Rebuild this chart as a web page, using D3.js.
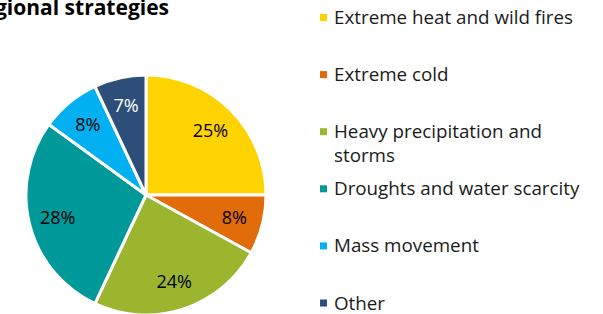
<!DOCTYPE html>
<html>
<head>
<meta charset="utf-8">
<script src="https://cdn.jsdelivr.net/npm/d3@7"></script>
<style>
  body { margin: 0; background: #fff; }
  text { font-family: "Open Sans", "Noto Sans", sans-serif; }
</style>
</head>
<body>
<div id="chart"></div>
<script>
// chart data
var categories = ['Extreme heat and wild fires', 'Extreme cold', 'Heavy precipitation and storms',
    'Droughts and water scarcity', 'Mass movement', 'Other'];
var shares = [25, 8, 24, 28, 8, 7];
var colors = ['#ffd300', '#e36c0a', '#9bb52e', '#009999', '#00b0f0', '#2d4e78'];
var labelColors = ['#000', '#000', '#000', '#000', '#000', '#fff'];
// legend text split into lines
var legendLines = [['Extreme heat and wild fires'], ['Extreme cold'], ['Heavy precipitation and', 'storms'],
    ['Droughts and water scarcity'], ['Mass movement'], ['Other']];

var svgWidth = 603;
var svgHeight = 314;

var svg = d3.select('#chart')
    .append('svg')
    .attr('width', svgWidth)
    .attr('height', svgHeight);

// title, cut off at the left edge like the original
svg.append('text')
    .attr('x', 169)
    .attr('y', 15)
    .attr('text-anchor', 'end')
    .attr('font-size', '21px')
    .attr('font-weight', 'bold')
    .attr('fill', '#000')
    .text('Regional strategies');

// pie
var cx = 146, cy = 195, radius = 120;

var pie = d3.pie().sort(null).value(d => d);
var arcs = pie(shares);

var arc = d3.arc().innerRadius(0).outerRadius(radius);
var labelArc = d3.arc().innerRadius(radius * 0.76).outerRadius(radius * 0.76);

var pieGroup = svg.append('g')
    .attr('transform', `translate(${cx}, ${cy})`);

pieGroup.selectAll('path')
    .data(arcs)
    .enter()
    .append('path')
    .attr('d', arc)
    .attr('fill', (d, i) => colors[i])
    .attr('stroke', '#fff')
    .attr('stroke-width', 3)
    .attr('stroke-linejoin', 'miter');

pieGroup.selectAll('text')
    .data(arcs)
    .enter()
    .append('text')
    .attr('transform', d => `translate(${labelArc.centroid(d)})`)
    .attr('text-anchor', 'middle')
    .attr('dy', '0.35em')
    .attr('font-size', '18px')
    .attr('fill', (d, i) => labelColors[i])
    .text(d => d.data + '%');

// legend
var legendX = 320;
var legendY = d3.scalePoint()
    .domain(categories)
    .range([24, 309.5]);

var legend = svg.append('g');

var items = legend.selectAll('g')
    .data(categories)
    .enter()
    .append('g')
    .attr('transform', d => `translate(${legendX}, ${legendY(d)})`);

items.append('rect')
    .attr('x', 0)
    .attr('y', -10)
    .attr('width', 7)
    .attr('height', 7)
    .attr('fill', (d, i) => colors[i]);

items.append('text')
    .attr('x', 14)
    .attr('y', 0)
    .attr('font-size', '18.8px')
    .attr('fill', '#1a1a1a')
    .selectAll('tspan')
    .data((d, i) => legendLines[i])
    .enter()
    .append('tspan')
    .attr('x', 14)
    .attr('dy', (d, j) => j === 0 ? 0 : 24)
    .text(d => d);
</script>
</body>
</html>
